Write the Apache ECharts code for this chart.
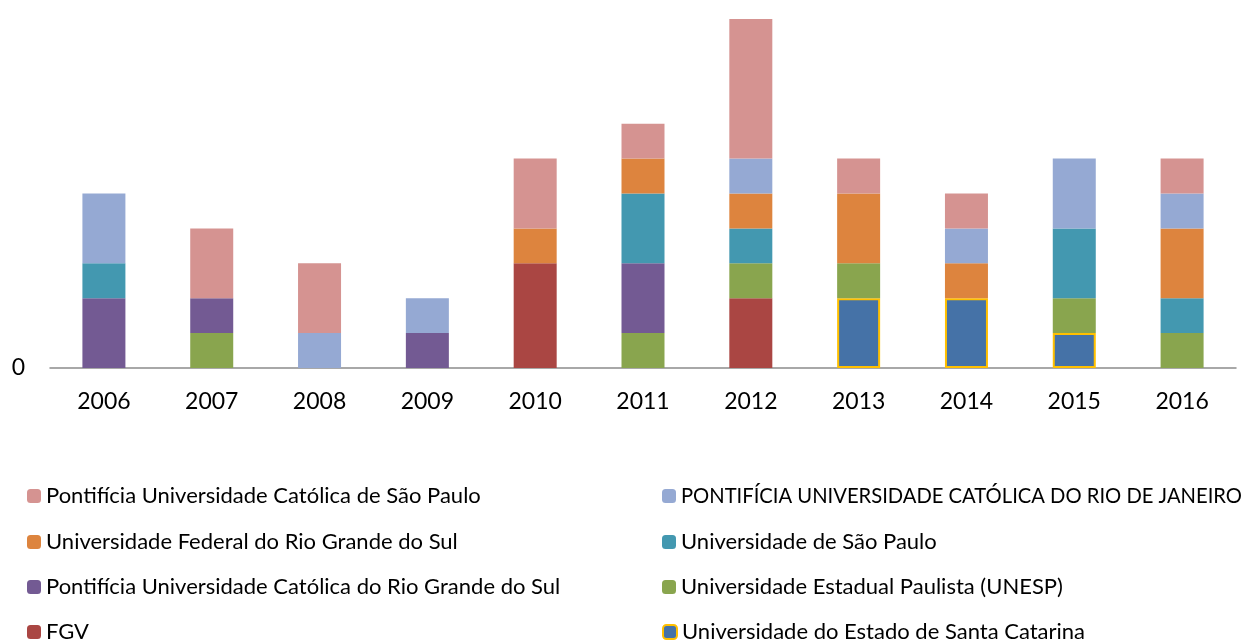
<!DOCTYPE html>
<html>
<head>
<meta charset="utf-8">
<script src="https://cdn.jsdelivr.net/npm/echarts@6/dist/echarts.min.js"></script>
<style>
html, body { margin: 0; padding: 0; background: #fff; }
#chart { width: 1247px; height: 642px; }
</style>
</head>
<body>
<div id="chart"></div>
<script>
// categorias e valores (de baixo para cima na pilha)
var anos = ['2006', '2007', '2008', '2009', '2010', '2011', '2012', '2013', '2014', '2015', '2016'];

var udesc  = [0, 0, 0, 0, 0, 0, 0, 2, 2, 1, 0];
var fgv    = [0, 0, 0, 0, 3, 0, 2, 0, 0, 0, 0];
var unesp  = [0, 1, 0, 0, 0, 1, 1, 1, 0, 1, 1];
var pucrs  = [2, 1, 0, 1, 0, 2, 0, 0, 0, 0, 0];
var usp    = [1, 0, 0, 0, 0, 2, 1, 0, 0, 2, 1];
var ufrgs  = [0, 0, 0, 0, 1, 1, 1, 2, 1, 0, 2];
var pucrio = [2, 0, 1, 1, 0, 0, 1, 0, 1, 2, 1];
var pucsp  = [0, 2, 2, 0, 2, 1, 4, 1, 1, 0, 1];

var nomes = {
    pucsp: 'Pontifícia Universidade Católica de São Paulo',
    pucrio: 'PONTIFÍCIA UNIVERSIDADE CATÓLICA DO RIO DE JANEIRO',
    ufrgs: 'Universidade Federal do Rio Grande do Sul',
    usp: 'Universidade de São Paulo',
    pucrs: 'Pontifícia Universidade Católica do Rio Grande do Sul',
    unesp: 'Universidade Estadual Paulista (UNESP)',
    fgv: 'FGV',
    udesc: 'Universidade do Estado de Santa Catarina'
};

// ordem da legenda: duas colunas, linha a linha
var ordemLegenda = [
    nomes.pucsp, nomes.pucrio,
    nomes.ufrgs, nomes.usp,
    nomes.pucrs, nomes.unesp,
    nomes.fgv, nomes.udesc
];

var fonte = 'Lato, "Liberation Sans", sans-serif';

function barra(nome, dados, cor, extra) {
    var estilo = { color: cor };
    if (extra) {
        estilo.borderColor = extra;
        estilo.borderWidth = 2;
    }
    return {
        name: nome,
        type: 'bar',
        stack: 'total',
        barWidth: 43,
        // zero vira vazio para não desenhar barras de altura nula
        data: dados.map(function (v) { return v === 0 ? '-' : v; }),
        itemStyle: estilo
    };
}

var myChart = echarts.init(document.getElementById('chart'));

// uma legenda por item, para posicionar as duas colunas
var linhas = [496, 542, 587, 632];
var legendas = ordemLegenda.map(function (nome, i) {
    // o nome todo em maiúsculas fica mais largo no Lato
    var tam = nome === nomes.pucrio ? 20.2 : 22;
    return {
        left: i % 2 === 0 ? 27 : 662,
        top: linhas[Math.floor(i / 2)] - 13,
        padding: 0,
        itemWidth: 14,
        itemHeight: 14,
        selectedMode: false,
        textStyle: { fontFamily: fonte, fontSize: tam, color: '#000', lineHeight: 26 },
        data: [nome]
    };
});

var option = {
    animation: false,
    textStyle: { fontFamily: fonte },
    legend: legendas,
    grid: {
        left: 50,
        right: 11,
        top: 19,
        bottom: 274,
        containLabel: false
    },
    xAxis: {
        type: 'category',
        data: anos,
        axisLine: { lineStyle: { color: '#8c8c8c', width: 1.5 } },
        axisTick: { show: false },
        axisLabel: { color: '#000', fontFamily: fonte, fontSize: 23, margin: 22 }
    },
    yAxis: {
        type: 'value',
        min: 0,
        max: 10,
        interval: 10,
        axisLine: { show: false },
        axisTick: { show: false },
        splitLine: { show: false },
        axisLabel: {
            color: '#000',
            fontFamily: fonte,
            fontSize: 23,
            margin: 25,
            formatter: function (v) { return v === 0 ? '0' : ''; }
        }
    },
    series: [
        barra(nomes.udesc, udesc, '#4572A7', '#FFC000'),
        barra(nomes.fgv, fgv, '#AA4643'),
        barra(nomes.unesp, unesp, '#89A54E'),
        barra(nomes.pucrs, pucrs, '#735A93'),
        barra(nomes.usp, usp, '#4398B0'),
        barra(nomes.ufrgs, ufrgs, '#DD843E'),
        barra(nomes.pucrio, pucrio, '#95A9D3'),
        barra(nomes.pucsp, pucsp, '#D59391')
    ]
};

myChart.setOption(option);
</script>
</body>
</html>
